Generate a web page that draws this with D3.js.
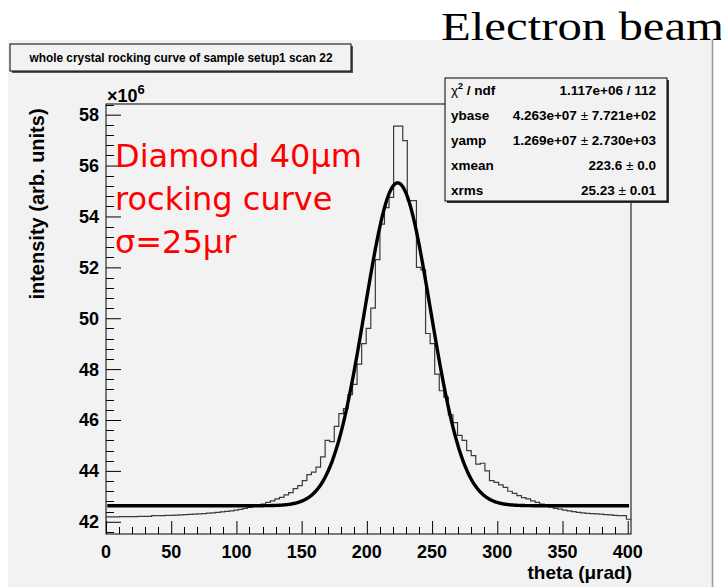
<!DOCTYPE html>
<html>
<head>
<meta charset="utf-8">
<script src="https://cdn.jsdelivr.net/npm/d3@7"></script>
<style>
  html, body { margin: 0; padding: 0; background: #ffffff; }
  svg { display: block; }
</style>
</head>
<body>
<svg id="chart" width="721" height="587"></svg>
<script>
// Histogram: 115 bins of 3.5 µrad starting at 0; values in units of 1e6
const binWidth = 3.5;
const binStarts = d3.range(115).map(i => i * binWidth);
const intensity = [
  42.19, 42.19, 42.19, 42.20, 42.20, 42.20, 42.20, 42.21, 42.21, 42.21,
  42.24, 42.24, 42.24, 42.25, 42.25, 42.26, 42.27, 42.28, 42.29, 42.30,
  42.31, 42.32, 42.34, 42.35, 42.37, 42.39, 42.41, 42.43, 42.46, 42.49,
  42.53, 42.57, 42.61, 42.65, 42.70, 42.76, 42.82, 42.90, 42.96, 43.06,
  43.15, 43.30, 43.42, 43.62, 43.85, 43.95, 44.15, 44.55, 45.20, 45.15,
  45.75, 46.25, 46.45, 47.00, 47.40, 48.20, 49.00, 49.60, 50.40, 52.30,
  53.70, 54.35, 54.75, 57.55, 57.55, 56.98, 54.62, 54.62, 52.00, 51.90,
  49.40, 49.00, 47.80, 47.15, 46.90, 46.20, 45.90, 45.40, 45.20, 44.80,
  44.60, 44.27, 44.30, 44.00, 43.62, 43.55, 43.45, 43.35, 43.20, 43.12,
  43.03, 42.95, 42.90, 42.82, 42.76, 42.70, 42.63, 42.58, 42.53, 42.50,
  42.46, 42.43, 42.40, 42.37, 42.35, 42.33, 42.32, 42.31, 42.30, 42.28,
  42.27, 42.25, 42.24, 42.24, 42.10
];

// Gaussian fit parameters (ybase, yamp in 1e6)
const fitParams = { ybase: 42.63, yamp: 12.69, xmean: 223.6, xrms: 25.23 };

// Fit statistics panel rows
const statLabels = ["\u03c7\u00b2 / ndf", "ybase", "yamp", "xmean", "xrms"];
const statValues = [
  ["1.117e+06 / 112"],
  ["4.263e+07", "7.721e+02"],
  ["1.269e+07", "2.730e+03"],
  ["223.6", "0.0"],
  ["25.23", "0.01"]
];

// Axis ticks
const xTicks = [0, 50, 100, 150, 200, 250, 300, 350, 400];
const yTicks = [42, 44, 46, 48, 50, 52, 54, 56, 58];

const titleText = "whole crystal rocking curve of sample setup1 scan 22";
const noteLines = ["Diamond 40\u03bcm", "rocking curve", "\u03c3=25\u03bcr"];

const svg = d3.select("#chart");
const W = 721, H = 587;
const font = "'Liberation Sans', Arial, Helvetica, sans-serif";

// Top-right caption (its lower edge meets the canvas pad)
svg.append("text").attr("x", 441).attr("y", 40)
  .attr("font-family", "'Liberation Serif', 'Times New Roman', serif").attr("font-size", 39)
  .attr("textLength", 283).attr("lengthAdjust", "spacingAndGlyphs")
  .attr("fill", "#000").text("Electron beam");

// Canvas pad
svg.append("rect").attr("x", 8).attr("y", 40).attr("width", 704).attr("height", H - 40)
  .attr("fill", "#f2f2f2");
svg.append("line").attr("x1", 712.5).attr("x2", 712.5).attr("y1", 40).attr("y2", H)
  .attr("stroke", "#9a9a9a").attr("stroke-width", 1.5);

// Frame
const fr = { left: 106, right: 631, top: 104, bottom: 534 };
const x = d3.scaleLinear().domain([0, 402.5]).range([fr.left, fr.right]);
const y = d3.scaleLinear().domain([41.52, 58.42]).range([fr.bottom, fr.top]);

// Histogram outline
const histPts = [];
binStarts.forEach((s, i) => {
  histPts.push([s, intensity[i]]);
  histPts.push([s + binWidth, intensity[i]]);
});
const lineGen = d3.line().x(d => x(d[0])).y(d => y(d[1]));
svg.append("path").attr("d", lineGen(histPts))
  .attr("fill", "none").attr("stroke", "#3a3a3a").attr("stroke-width", 1.2);

// Fit curve
const fitFn = t => fitParams.ybase + fitParams.yamp *
  Math.exp(-0.5 * Math.pow((t - fitParams.xmean) / fitParams.xrms, 2));
const fitPts = d3.range(1, 401.5, 0.5).map(t => [t, fitFn(t)]);
svg.append("path").attr("d", lineGen(fitPts))
  .attr("fill", "none").attr("stroke", "#000").attr("stroke-width", 3.4)
  .attr("stroke-linejoin", "round");

// Frame border
svg.append("rect").attr("x", fr.left).attr("y", fr.top)
  .attr("width", fr.right - fr.left).attr("height", fr.bottom - fr.top)
  .attr("fill", "none").attr("stroke", "#000").attr("stroke-width", 1);

// Y axis ticks (drawn inward)
const yAxis = d3.axisRight(y).tickValues(yTicks).tickSize(15).tickFormat("");
const gy = svg.append("g").attr("transform", `translate(${fr.left},0)`).call(yAxis);
gy.select(".domain").remove();
gy.selectAll(".tick line").attr("stroke", "#000");
const yMinor = d3.range(41.6, 58.41, 0.4).filter(v => !yTicks.some(t => Math.abs(t - v) < 1e-6));
svg.append("g").selectAll("line").data(yMinor).join("line")
  .attr("x1", fr.left).attr("x2", fr.left + 8)
  .attr("y1", d => Math.round(y(d)) + 0.5).attr("y2", d => Math.round(y(d)) + 0.5)
  .attr("stroke", "#000");
svg.append("g").selectAll("text").data(yTicks).join("text")
  .attr("x", 99).attr("y", d => y(d)).attr("dy", "0.36em")
  .attr("text-anchor", "end").attr("font-family", font).attr("font-weight", "bold")
  .attr("font-size", 18).text(d => d);

// X axis ticks (drawn inward)
const xAxis = d3.axisTop(x).tickValues(xTicks).tickSize(13).tickFormat("");
const gx = svg.append("g").attr("transform", `translate(0,${fr.bottom})`).call(xAxis);
gx.select(".domain").remove();
gx.selectAll(".tick line").attr("stroke", "#000");
const xMinor = d3.range(10, 401, 10).filter(v => v % 50 !== 0);
svg.append("g").selectAll("line").data(xMinor).join("line")
  .attr("x1", d => Math.round(x(d)) + 0.5).attr("x2", d => Math.round(x(d)) + 0.5)
  .attr("y1", fr.bottom).attr("y2", fr.bottom - 7)
  .attr("stroke", "#000");
svg.append("g").selectAll("text").data(xTicks).join("text")
  .attr("x", d => x(d)).attr("y", 558)
  .attr("text-anchor", "middle").attr("font-family", font).attr("font-weight", "bold")
  .attr("font-size", 18).text(d => d);

// Axis titles
svg.append("text").attr("x", fr.right + 1).attr("y", 579).attr("text-anchor", "end")
  .attr("font-family", font).attr("font-weight", "bold").attr("font-size", 19)
  .text("theta (\u03bcrad)");
svg.append("text").attr("transform", "translate(44,204) rotate(-90)")
  .attr("text-anchor", "middle").attr("font-family", font).attr("font-weight", "bold")
  .attr("font-size", 20).text("intensity (arb. units)");

// Exponent label
const expo = svg.append("text").attr("x", 107).attr("y", 102)
  .attr("font-family", font).attr("font-weight", "bold").attr("font-size", 18);
expo.append("tspan").text("\u00d710");
expo.append("tspan").attr("dy", -8).attr("font-size", 13).text("6");

// Title box
svg.append("rect").attr("x", 12).attr("y", 46).attr("width", 341).attr("height", 27).attr("fill", "#555");
svg.append("rect").attr("x", 10).attr("y", 44).attr("width", 341).attr("height", 27)
  .attr("fill", "#f2f2f2").attr("stroke", "#000").attr("stroke-width", 1);
svg.append("text").attr("x", 181).attr("y", 62).attr("text-anchor", "middle")
  .attr("font-family", font).attr("font-weight", "bold").attr("font-size", 13)
  .attr("textLength", 303).attr("lengthAdjust", "spacingAndGlyphs")
  .text(titleText);

// Stats box
const sb = { x: 445, y: 78, w: 222, h: 123 };
svg.append("rect").attr("x", sb.x + 2).attr("y", sb.y + 2).attr("width", sb.w).attr("height", sb.h).attr("fill", "#333");
svg.append("rect").attr("x", sb.x).attr("y", sb.y).attr("width", sb.w).attr("height", sb.h)
  .attr("fill", "#f2f2f2").attr("stroke", "#000").attr("stroke-width", 1);
statLabels.forEach((lab, i) => {
  const ry = sb.y + 17 + i * 25;
  const t = svg.append("text").attr("x", sb.x + 6).attr("y", ry)
    .attr("font-family", font).attr("font-weight", "bold").attr("font-size", 13.5);
  if (i === 0) {
    t.append("tspan").attr("font-weight", "normal").text("\u03c7");
    t.append("tspan").attr("dy", -6).attr("font-size", 9).text("2");
    t.append("tspan").attr("dy", 6).text(" / ndf");
  } else {
    t.text(lab);
  }
  const v = svg.append("text").attr("x", sb.x + sb.w - 11).attr("y", ry)
    .attr("text-anchor", "end").attr("font-family", font).attr("font-weight", "bold")
    .attr("font-size", 13.5);
  const vals = statValues[i];
  if (vals.length === 1) {
    v.text(vals[0]);
  } else {
    v.append("tspan").text(vals[0]);
    v.append("tspan").attr("font-weight", "normal").text(" \u00b1 ");
    v.append("tspan").text(vals[1]);
  }
});

// Annotation
noteLines.forEach((ln, i) => {
  svg.append("text").attr("x", 115).attr("y", 167 + i * 43)
    .attr("font-family", "'DejaVu Sans', sans-serif").attr("font-size", 32)
    .attr("fill", "#ff0000").text(ln);
});
</script>
</body>
</html>
